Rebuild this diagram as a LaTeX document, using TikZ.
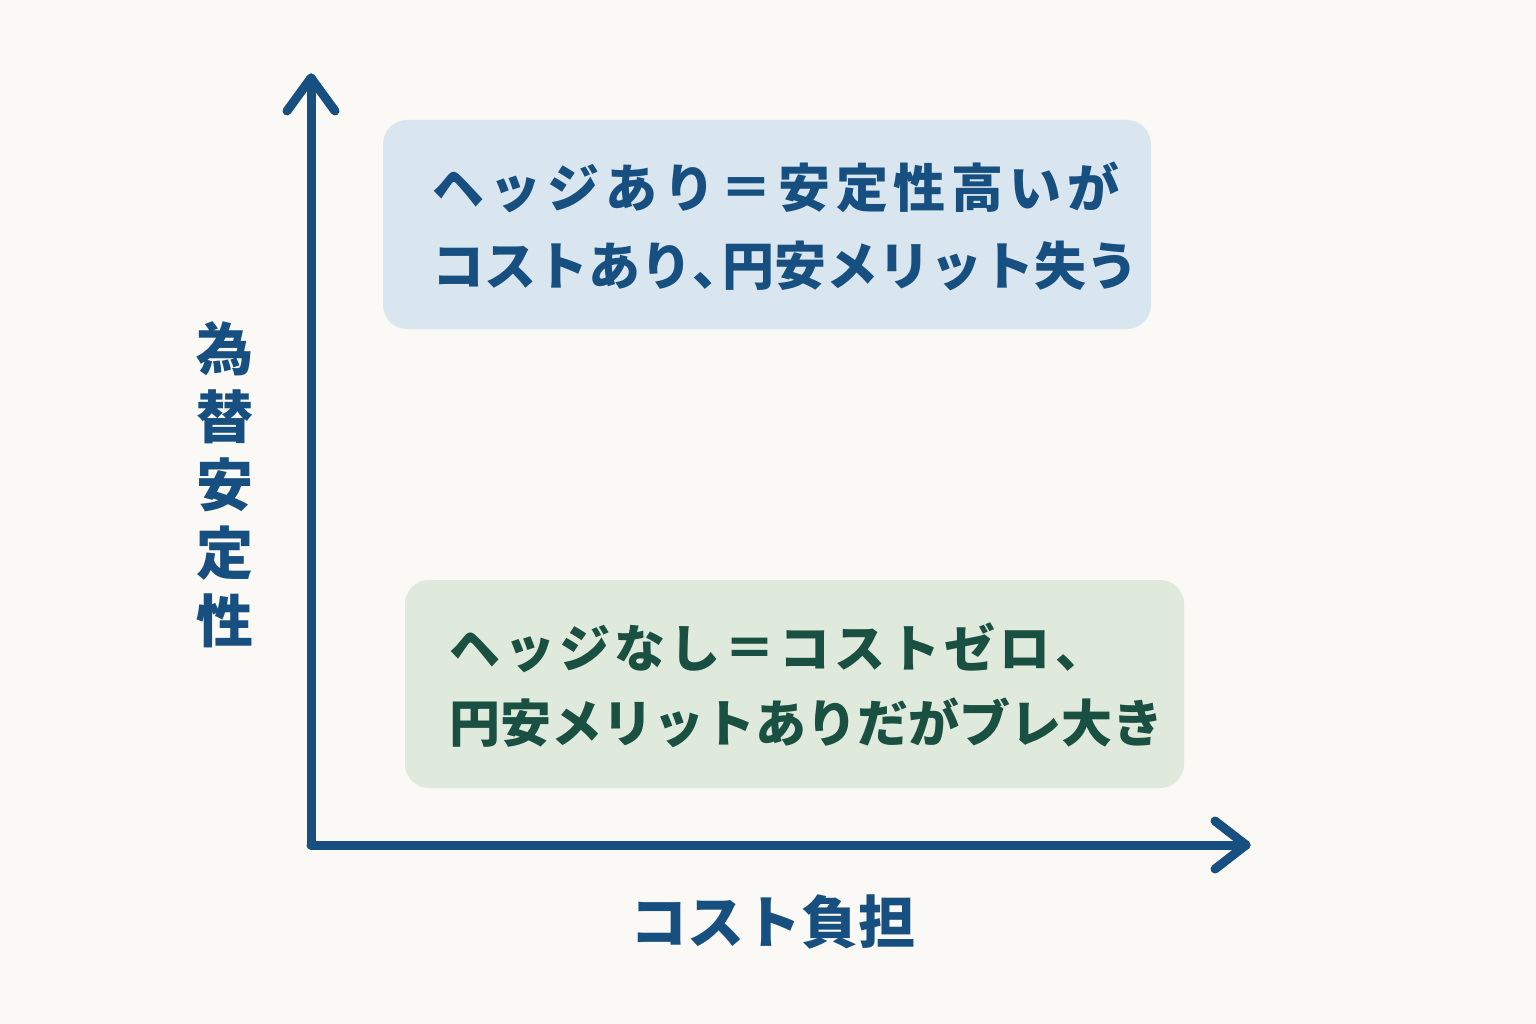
\documentclass[tikz,border=0pt]{standalone}
\usepackage{fontspec}
\usetikzlibrary{calc}
\newfontfamily\jp{Noto Sans CJK JP}
\definecolor{bg}{HTML}{FAF9F5}
\definecolor{axisblue}{HTML}{164F80}
\definecolor{boxblue}{HTML}{D9E6F0}
\definecolor{boxgreen}{HTML}{DFE9DC}
\definecolor{textgreen}{HTML}{1A5041}
\tikzset{
  axisline/.style={draw=axisblue, line width=9pt, line cap=round, line join=round},
  panel/.style={rounded corners=24pt, draw=none},
  paneltext/.style={inner sep=0pt, anchor=west, align=left, font=\jp\bfseries\fontsize{52}{78}\selectfont},
  axislabel/.style={inner sep=0pt, text=axisblue, font=\jp\bfseries\fontsize{57}{68}\selectfont}
}
\begin{document}
\begin{tikzpicture}[x=1pt,y=-1pt]
\fill[bg] (0,0) rectangle (1536,1024);
\useasboundingbox (0,0) rectangle (1536,1024);
% panels
\fill[panel, boxblue] (383,120) rectangle (1151,329);
\fill[panel, boxgreen] (405,580) rectangle (1184,788);
\node[paneltext, text=axisblue] (top) at (432,226) {{\addfontfeature{LetterSpace=11}ヘッジあり＝安定性高いが}\\コストあり\makebox[30pt][l]{、}円安メリット失う};
\node[paneltext, text=textgreen, font=\jp\bfseries\fontsize{51}{75}\selectfont] (bottom) at (449,685) {{\addfontfeature{LetterSpace=8}ヘッジなし＝コストゼロ、}\\円安メリットありだがブレ大き};
% axes
\coordinate (origin) at (311,845);
\coordinate (ytip) at (311,78);
\coordinate (xtip) at (1246,845);
\draw[axisline] (origin) -- (ytip);
\draw[axisline] (origin) -- (xtip);
\draw[axisline] ($(ytip)+(-24,33)$) -- (ytip) -- ($(ytip)+(24,33)$);
\draw[axisline] ($(xtip)+(-31,-24)$) -- (xtip) -- ($(xtip)+(-31,24)$);
% labels
\node[axislabel, align=center] (ylabel) at (225,485) {為\\替\\安\\定\\性};
\node[axislabel] (xlabel) at (773,922) {コスト負担};
\end{tikzpicture}
\end{document}
